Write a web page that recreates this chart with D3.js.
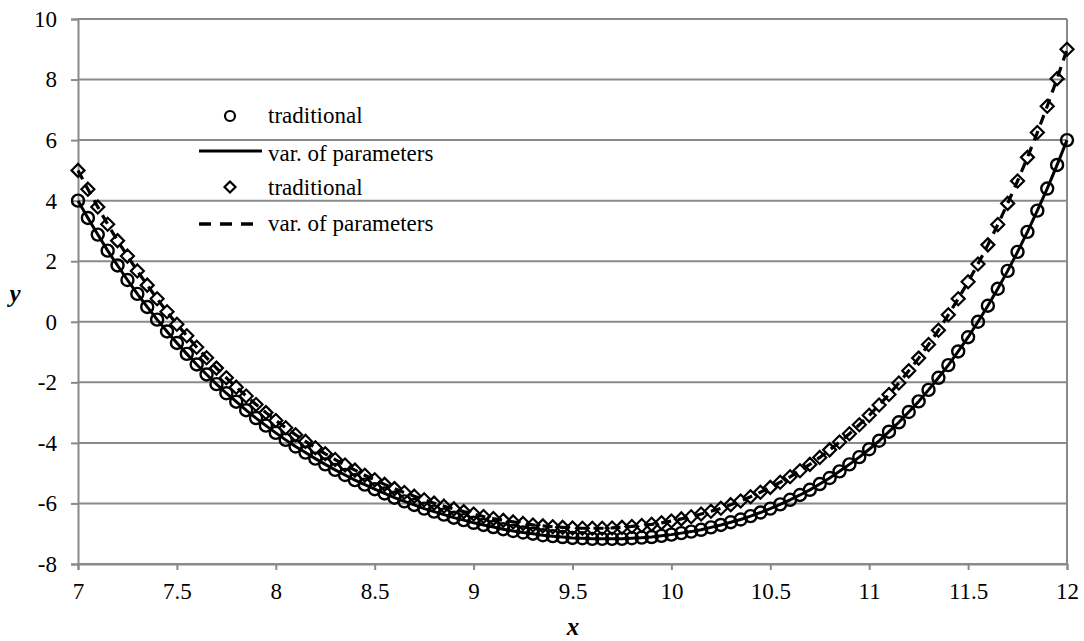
<!DOCTYPE html>
<html><head><meta charset="utf-8">
<script src="https://cdn.jsdelivr.net/npm/d3@7"></script>
<style>
body{margin:0;background:#fff}
svg{display:block}
svg text{font-family:"Liberation Serif","Times New Roman",Times,serif !important}
</style>
</head><body>
<svg id="chart" width="1084" height="641"></svg>
<script>
const xValues = [7,7.05,7.1,7.15,7.2,7.25,7.3,7.35,7.4,7.45,
7.5,7.55,7.6,7.65,7.7,7.75,7.8,7.85,7.9,7.95,
8,8.05,8.1,8.15,8.2,8.25,8.3,8.35,8.4,8.45,
8.5,8.55,8.6,8.65,8.7,8.75,8.8,8.85,8.9,8.95,
9,9.05,9.1,9.15,9.2,9.25,9.3,9.35,9.4,9.45,
9.5,9.55,9.6,9.65,9.7,9.75,9.8,9.85,9.9,9.95,
10,10.05,10.1,10.15,10.2,10.25,10.3,10.35,10.4,10.45,
10.5,10.55,10.6,10.65,10.7,10.75,10.8,10.85,10.9,10.95,
11,11.05,11.1,11.15,11.2,11.25,11.3,11.35,11.4,11.45,
11.5,11.55,11.6,11.65,11.7,11.75,11.8,11.85,11.9,11.95,
12];

const traditional1 = [4.00,3.43,2.88,2.35,1.86,1.38,0.92,0.49,0.07,-0.32,
-0.70,-1.06,-1.41,-1.74,-2.06,-2.36,-2.64,-2.92,-3.18,-3.43,
-3.67,-3.90,-4.12,-4.32,-4.52,-4.71,-4.89,-5.06,-5.23,-5.38,
-5.53,-5.67,-5.81,-5.93,-6.05,-6.17,-6.27,-6.37,-6.47,-6.55,
-6.64,-6.71,-6.78,-6.85,-6.91,-6.96,-7.00,-7.05,-7.08,-7.11,
-7.14,-7.15,-7.17,-7.17,-7.17,-7.17,-7.15,-7.13,-7.11,-7.07,
-7.03,-6.98,-6.93,-6.87,-6.79,-6.71,-6.62,-6.53,-6.42,-6.30,
-6.17,-6.03,-5.88,-5.72,-5.55,-5.36,-5.16,-4.94,-4.71,-4.47,
-4.21,-3.93,-3.63,-3.32,-2.98,-2.63,-2.25,-1.85,-1.43,-0.98,
-0.51,0.00,0.53,1.09,1.68,2.31,2.97,3.67,4.40,5.18,
6.00];
const varParams1 = traditional1.slice();

const traditional2 = [5.00,4.38,3.79,3.22,2.68,2.17,1.68,1.21,0.76,0.33,
-0.08,-0.46,-0.84,-1.19,-1.53,-1.85,-2.16,-2.45,-2.73,-3.00,
-3.26,-3.50,-3.73,-3.95,-4.16,-4.36,-4.55,-4.73,-4.90,-5.07,
-5.22,-5.37,-5.51,-5.64,-5.76,-5.88,-5.99,-6.09,-6.18,-6.27,
-6.35,-6.43,-6.50,-6.56,-6.61,-6.66,-6.71,-6.74,-6.77,-6.79,
-6.81,-6.82,-6.82,-6.82,-6.81,-6.79,-6.76,-6.73,-6.69,-6.64,
-6.58,-6.51,-6.44,-6.35,-6.26,-6.16,-6.04,-5.92,-5.78,-5.63,
-5.47,-5.30,-5.12,-4.92,-4.71,-4.48,-4.23,-3.97,-3.70,-3.40,
-3.09,-2.75,-2.40,-2.02,-1.62,-1.20,-0.75,-0.28,0.23,0.76,
1.32,1.91,2.54,3.21,3.91,4.65,5.43,6.25,7.12,8.03,
9.00];
const varParams2 = traditional2.slice();

const xTicks = [7,7.5,8,8.5,9,9.5,10,10.5,11,11.5,12];
const yTicks = [-8,-6,-4,-2,0,2,4,6,8,10];
const legendLabels = ["traditional","var. of parameters","traditional","var. of parameters"];

(function(){
const svg = d3.select("#chart");
const W = 1084, H = 641;
const mLeft = 78, mRight = 1067, mTop = 19, mBottom = 564;
const gridColor = "#8a8a8a";
const FONT = '"Liberation Serif","Times New Roman",Times,serif';

const x = d3.scaleLinear().domain([7,12]).range([mLeft,mRight]);
const y = d3.scaleLinear().domain([-8,10]).range([mBottom,mTop]);

svg.append("rect").attr("width",W).attr("height",H).attr("fill","#fff");

svg.append("g").selectAll("line").data(yTicks).join("line")
  .attr("x1",mLeft).attr("x2",mRight)
  .attr("y1",d=>y(d)).attr("y2",d=>y(d))
  .attr("stroke",gridColor).attr("stroke-width",2);

svg.append("line").attr("x1",mRight).attr("x2",mRight).attr("y1",mTop).attr("y2",mBottom)
  .attr("stroke",gridColor).attr("stroke-width",2);

const fmt = d => String(d);
const xAxis = svg.append("g").attr("transform",`translate(0,${mBottom})`)
  .call(d3.axisBottom(x).tickValues(xTicks).tickSize(6).tickPadding(13).tickFormat(fmt));
const yAxis = svg.append("g").attr("transform",`translate(${mLeft},0)`)
  .call(d3.axisLeft(y).tickValues(yTicks).tickSize(7).tickPadding(14).tickFormat(fmt));
[xAxis,yAxis].forEach(g=>{
  g.attr("font-family",FONT);
  g.select(".domain").attr("stroke",gridColor).attr("stroke-width",2);
  g.selectAll(".tick line").attr("stroke",gridColor).attr("stroke-width",2);
  g.selectAll(".tick text").attr("fill","#000").attr("font-size",23)
    .attr("font-family",FONT);
});

const d1 = xValues.map((v,i)=>({x:v,t:traditional1[i],p:varParams1[i]}));
const d2 = xValues.map((v,i)=>({x:v,t:traditional2[i],p:varParams2[i]}));

const line = key => d3.line().x(d=>x(d.x)).y(d=>y(d[key]));

svg.append("path").datum(d1).attr("d",line("p"))
  .attr("fill","none").attr("stroke","#000").attr("stroke-width",3);
svg.append("path").datum(d2).attr("d",line("p"))
  .attr("fill","none").attr("stroke","#000").attr("stroke-width",3.2)
  .attr("stroke-dasharray","10,7");

svg.append("g").selectAll("circle").data(d1).join("circle")
  .attr("cx",d=>x(d.x)).attr("cy",d=>y(d.t)).attr("r",6)
  .attr("fill","none").attr("stroke","#000").attr("stroke-width",2.4);

const diamond = s => `M0,${-s}L${s},0L0,${s}L${-s},0Z`;
svg.append("g").selectAll("path").data(d2).join("path")
  .attr("transform",d=>`translate(${x(d.x)},${y(d.t)})`)
  .attr("d",diamond(6.5))
  .attr("fill","none").attr("stroke","#000").attr("stroke-width",2.2);

const lg = svg.append("g");
lg.append("circle").attr("cx",230).attr("cy",116).attr("r",5)
  .attr("fill","none").attr("stroke","#000").attr("stroke-width",2.2);
lg.append("line").attr("x1",199).attr("x2",262).attr("y1",151).attr("y2",151)
  .attr("stroke","#000").attr("stroke-width",3.2);
lg.append("path").attr("transform","translate(230,187)").attr("d",diamond(5.5))
  .attr("fill","none").attr("stroke","#000").attr("stroke-width",2.2);
lg.append("line").attr("x1",199).attr("x2",262).attr("y1",224).attr("y2",224)
  .attr("stroke","#000").attr("stroke-width",3.5).attr("stroke-dasharray","12,9");
const baselines = [123,161,195,231];
lg.selectAll("text").data(legendLabels).join("text")
  .attr("x",268).attr("y",(d,i)=>baselines[i])
  .attr("font-family",FONT)
  .attr("font-size",23).attr("fill","#000").text(d=>d);

svg.append("text").attr("x",573).attr("y",635).attr("text-anchor","middle")
  .attr("font-family",FONT)
  .attr("font-size",25).attr("font-weight","bold").attr("font-style","italic").text("x");
svg.append("text").attr("x",15).attr("y",302).attr("text-anchor","middle")
  .attr("font-family",FONT)
  .attr("font-size",25).attr("font-weight","bold").attr("font-style","italic").text("y");
})();
</script>
</body></html>
